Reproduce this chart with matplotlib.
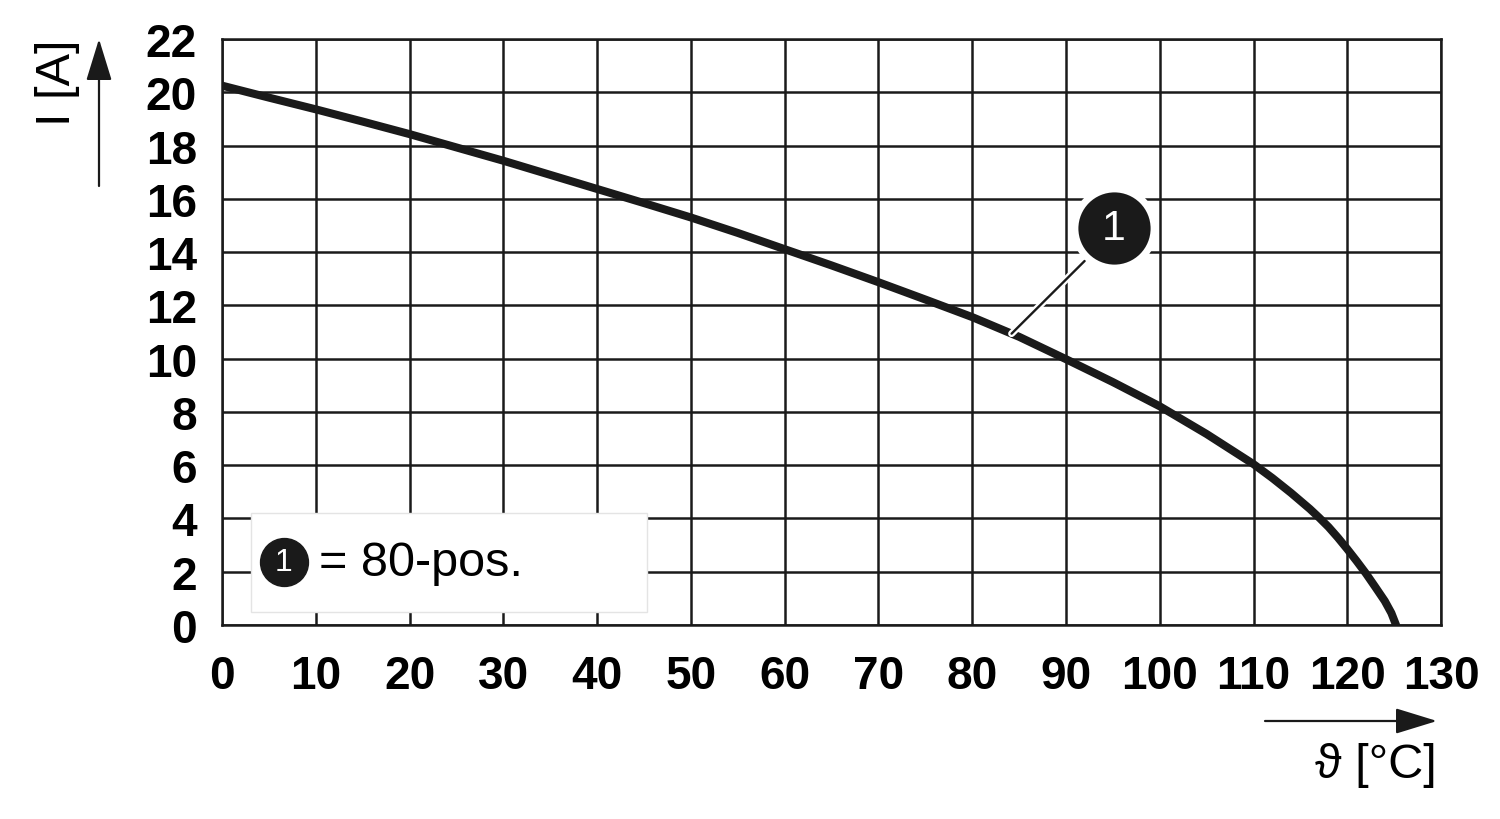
import matplotlib.pyplot as plt
import matplotlib.patheffects as pe
from matplotlib.patches import Rectangle
import numpy as np

plt.rcParams['font.family'] = ['Liberation Sans', 'DejaVu Sans']

# derating curve
temp = [0, 5, 10, 15, 20, 25, 30, 35, 40, 45, 50, 55, 60, 65, 70, 75, 80, 85, 90, 95,
        100, 105, 110, 112, 114, 116, 117, 118, 119, 120, 121, 122, 123, 124, 124.7, 125.2]
current = [20.25, 19.8, 19.36, 18.9, 18.43, 17.93, 17.43, 16.9, 16.37, 15.84, 15.3, 14.72,
           14.11, 13.5, 12.87, 12.22, 11.56, 10.82, 9.98, 9.12, 8.21, 7.17, 6.04, 5.52,
           4.96, 4.36, 4.03, 3.68, 3.28, 2.85, 2.4, 1.93, 1.42, 0.9, 0.45, 0.0]

x_ticks = list(range(0, 131, 10))
y_ticks = list(range(0, 23, 2))
series_label = "= 80-pos."

fig = plt.figure(figsize=(15, 8.2), dpi=100, facecolor="white")
ax = fig.add_axes([0.148, 0.2366, 0.8127, 0.7146])

ax.set_xlim(0, 130)
ax.set_ylim(0, 22)
ax.set_xticks(x_ticks)
ax.set_yticks(y_ticks)
ax.grid(True, color="#1a1a1a", linewidth=1.8)
ax.set_axisbelow(True)
for s in ax.spines.values():
    s.set_color("#1a1a1a")
    s.set_linewidth(1.8)
ax.tick_params(length=0, labelsize=33)
for lab in ax.get_xticklabels() + ax.get_yticklabels():
    lab.set_fontweight("bold")
ax.tick_params(axis="y", pad=18)
ax.tick_params(axis="x", pad=21)

ax.plot(temp, current, color="#1a1a1a", linewidth=5.8, solid_capstyle="round",
        solid_joinstyle="round", zorder=3)

# callout 1
cx, cy = 95.1, 14.9
px = 84.2
py = np.interp(px, temp, current)
ax.plot([px, 92.0], [py, 13.67], color="#1a1a1a", linewidth=1.7, zorder=4,
        solid_capstyle="round",
        path_effects=[pe.withStroke(linewidth=5, foreground="white")])
ax.plot(cx, cy, "o", markersize=57, markerfacecolor="#1a1a1a",
        markeredgecolor="white", markeredgewidth=5, zorder=5, clip_on=False)
ax.text(cx, cy, "1", color="white", fontsize=31, ha="center", va="center", zorder=6)

# legend box
ax.add_patch(Rectangle((3.09, 0.49), 42.2, 3.71, facecolor="white",
                       edgecolor="#e4e4e4", linewidth=1, zorder=4))
ax.plot(6.6, 2.36, "o", markersize=34.5, color="#1a1a1a", zorder=5)
ax.text(6.6, 2.36, "1", color="white", fontsize=23, ha="center", va="center", zorder=6)
ax.text(10.3, 2.36, series_label, fontsize=35, ha="left", va="center", zorder=6)

# axis arrows and labels
arr = dict(arrowstyle="-|>,head_length=1.3,head_width=0.4", color="#1a1a1a",
           linewidth=1.6, mutation_scale=20, shrinkA=0, shrinkB=0)
ax.annotate("", xy=(99 / 1500, 1 - 40 / 820), xytext=(99 / 1500, 1 - 187 / 820),
            xycoords="figure fraction", textcoords="figure fraction", arrowprops=arr)
ax.annotate("", xy=(1437 / 1500, 1 - 722 / 820), xytext=(1265 / 1500, 1 - 722 / 820),
            xycoords="figure fraction", textcoords="figure fraction", arrowprops=arr)
fig.text(58 / 1500, 1 - 83 / 820, "I [A]", rotation=90, fontsize=35,
         ha="center", va="center")
fig.text(1437 / 1500, 1 - 766 / 820, "ϑ [°C]", fontsize=35, ha="right", va="center")

plt.savefig("out.png", dpi=100, facecolor=fig.get_facecolor())
plt.close()
